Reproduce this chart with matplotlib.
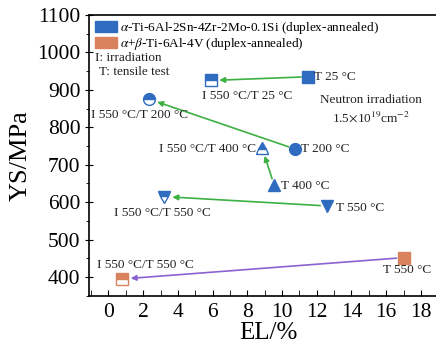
import matplotlib
matplotlib.use("Agg")
import matplotlib.pyplot as plt
from matplotlib.patches import Patch
from matplotlib.ticker import MultipleLocator

plt.rcParams['font.family'] = ['Liberation Serif', 'DejaVu Serif']
plt.rcParams['mathtext.fontset'] = 'stix'

# alpha Ti-6Al-2Sn-4Zr-2Mo-0.1Si: (unirradiated, irradiated) pairs
ti6242_labels_T = ['T 25 °C', 'T 200 °C', 'T 400 °C', 'T 550 °C']
ti6242_labels_I = ['I 550 °C/T 25 °C', 'I 550 °C/T 200 °C',
                   'I 550 °C/T 400 °C', 'I 550 °C/T 550 °C']
ti6242_el_T = [11.5, 10.75, 9.55, 12.6]
ti6242_ys_T = [935, 742, 645, 590]
ti6242_el_I = [5.9, 2.35, 8.85, 3.2]
ti6242_ys_I = [925, 875, 745, 615]
ti6242_markers = ['s', 'o', '^', 'v']

# alpha+beta Ti-6Al-4V
ti64_el_T = [17.0]
ti64_ys_T = [452]
ti64_el_I = [0.8]
ti64_ys_I = [395]

blue = '#2f6cc0'
orange = '#d9825e'
green = '#3cb043'
purple = '#8b63d0'
txt = '#222222'

fig = plt.figure(figsize=(4.36, 3.56), dpi=100)
ax = fig.add_axes([0.205, 0.169, 0.82, 0.789])

# arrows from unirradiated to irradiated
for x0, y0, x1, y1 in zip(ti6242_el_T, ti6242_ys_T, ti6242_el_I, ti6242_ys_I):
    ax.annotate('', xy=(x1, y1), xytext=(x0, y0),
                arrowprops=dict(arrowstyle='-|>', color=green, lw=1.2,
                                mutation_scale=8, shrinkA=5, shrinkB=6))
for x0, y0, x1, y1 in zip(ti64_el_T, ti64_ys_T, ti64_el_I, ti64_ys_I):
    ax.annotate('', xy=(x1, y1), xytext=(x0, y0),
                arrowprops=dict(arrowstyle='-|>', color=purple, lw=1.2,
                                mutation_scale=8, shrinkA=5, shrinkB=6))

ms = 8.5
for x, y, m in zip(ti6242_el_T, ti6242_ys_T, ti6242_markers):
    ax.plot(x, y, marker=m, ms=ms, color=blue, mec=blue, ls='none', zorder=3)
for x, y, m in zip(ti6242_el_I, ti6242_ys_I, ti6242_markers):
    ax.plot(x, y, marker=m, ms=ms, color=blue, mec=blue, fillstyle='top',
            markerfacecoloralt='white', mew=1.0, ls='none', zorder=3)
ax.plot(ti64_el_T, ti64_ys_T, marker='s', ms=ms, color=orange, ls='none', zorder=3)
ax.plot(ti64_el_I, ti64_ys_I, marker='s', ms=ms, color=orange, mec=orange,
        fillstyle='top', markerfacecoloralt='white', mew=1.0, ls='none', zorder=3)

fs = 9.5
# labels for T points
ax.text(11.85, 935, ti6242_labels_T[0], fontsize=fs, va='center', ha='left', color=txt)
ax.text(11.1, 742, ti6242_labels_T[1], fontsize=fs, va='center', ha='left', color=txt)
ax.text(9.95, 644, ti6242_labels_T[2], fontsize=fs, va='center', ha='left', color=txt)
ax.text(13.1, 585, ti6242_labels_T[3], fontsize=fs, va='center', ha='left', color=txt)
ax.text(17.2, 419, 'T 550 °C', fontsize=fs, va='center', ha='center', color=txt)
# labels for I points
ax.text(5.4, 884, ti6242_labels_I[0], fontsize=fs, va='center', ha='left', color=txt)
ax.text(1.8, 833, ti6242_labels_I[1], fontsize=fs, va='center', ha='center', color=txt)
ax.text(8.5, 742, ti6242_labels_I[2], fontsize=fs, va='center', ha='right', color=txt)
ax.text(3.1, 572, ti6242_labels_I[3], fontsize=fs, va='center', ha='center', color=txt)
ax.text(2.15, 433, 'I 550 °C/T 550 °C', fontsize=fs, va='center', ha='center', color=txt)

ax.text(-0.75, 986, 'I: irradiation', fontsize=fs, va='center', ha='left', color=txt)
ax.text(-0.55, 948, 'T: tensile test', fontsize=fs, va='center', ha='left', color=txt)
ax.text(15.1, 873, 'Neutron irradiation', fontsize=fs, va='center', ha='center', color=txt)
ax.text(15.1, 828, r'1.5$\times$10$^{19}$cm$^{-2}$', fontsize=fs, va='center', ha='center',
        color=txt)

handles = [Patch(color=blue), Patch(color=orange)]
labels = [r'$\alpha$-Ti-6Al-2Sn-4Zr-2Mo-0.1Si (duplex-annealed)',
          r'$\alpha$+$\beta$-Ti-6Al-4V (duplex-annealed)']
ax.legend(handles, labels, loc='upper left', bbox_to_anchor=(0.0, 1.0), frameon=False,
          fontsize=fs, handlelength=1.7, handleheight=0.9, handletextpad=0.25,
          labelspacing=0.0, borderaxespad=0.2, borderpad=0.2)

ax.set_xlim(-1.1, 19.5)
ax.set_ylim(350, 1100)
ax.xaxis.set_major_locator(MultipleLocator(2))
ax.xaxis.set_minor_locator(MultipleLocator(1))
ax.yaxis.set_major_locator(MultipleLocator(100))
ax.yaxis.set_minor_locator(MultipleLocator(50))
ax.tick_params(axis='x', which='both', direction='in', labelsize=15.5, length=4, pad=5)
ax.tick_params(axis='y', which='major', direction='inout', labelsize=15.5, length=6)
ax.tick_params(axis='y', which='minor', direction='out', length=2)
ax.set_xlabel('EL/%', fontsize=18, labelpad=0)
ax.set_ylabel('YS/MPa', fontsize=19, labelpad=4)
for s in ax.spines.values():
    s.set_linewidth(1.2)

fig.savefig('out.png', dpi=100)
